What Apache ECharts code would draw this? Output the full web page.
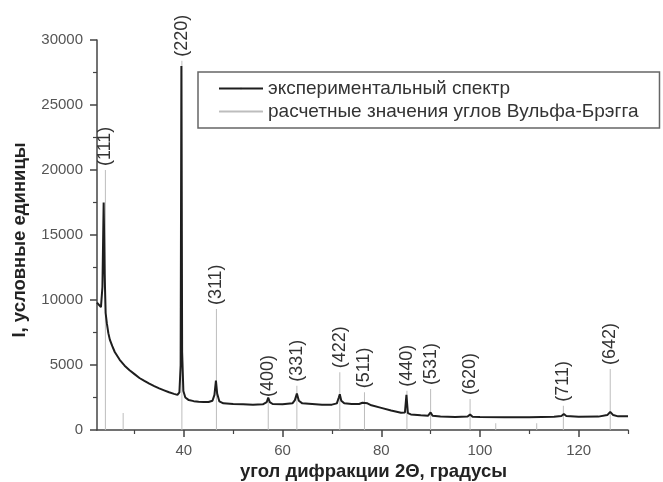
<!DOCTYPE html>
<html>
<head>
<meta charset="utf-8">
<script src="https://cdn.jsdelivr.net/npm/echarts@6/dist/echarts.min.js"></script>
<style>
html, body { margin: 0; padding: 0; background: #fff; }
#chart { width: 663px; height: 482px; }
</style>
</head>
<body>
<div id="chart"></div>
<script>
// экспериментальный спектр (2θ, I)
var specAngle = [22.4, 22.8, 23.2, 23.5, 23.75, 23.95, 24.15, 24.4, 24.7, 25.0, 25.5, 26.0, 27.0, 28.0, 29.0, 30.0,
    31.0, 32.0, 33.0, 34.0, 35.0, 36.0, 37.0, 38.0, 38.7, 39.1, 39.35, 39.5, 39.65, 39.9, 40.3, 41.0, 42.0, 43.0,
    44.0, 45.0, 45.8, 46.2, 46.5, 46.75, 47.2, 48.0, 50.0, 52.0, 54.0, 56.0, 56.8, 57.1, 57.4, 58.0, 60.0, 62.0,
    62.5, 62.9, 63.3, 64.0, 66.0, 68.0, 70.0, 71.0, 71.4, 71.6, 71.9, 72.5, 74.0, 75.5, 76.2, 76.6, 77.2, 78.0,
    80.0, 82.0, 84.0, 84.8, 85.1, 85.4, 86.0, 88.0, 89.5, 90.0, 90.4, 92.0, 95.0, 97.5, 98.0, 98.5, 100.0, 105.0,
    110.0, 115.0, 116.5, 117.0, 117.5, 120.0, 124.0, 125.8, 126.4, 127.0, 128.0, 130.0]
var specIntensity = [9800, 9700, 9450, 11000, 17500, 12000, 9000, 8200, 7450, 6950, 6450, 6000, 5400, 4950, 4600, 4300,
    4000, 3780, 3570, 3380, 3200, 3050, 2900, 2780, 2700, 2900, 5000, 28000, 6000, 3000, 2500, 2300, 2220, 2180,
    2150, 2150, 2250, 2700, 3800, 2800, 2200, 2050, 2000, 1980, 1950, 1980, 2150, 2500, 2150, 2000, 1980, 2050,
    2300, 2800, 2250, 2050, 2000, 1950, 1950, 2050, 2500, 2750, 2250, 2050, 2000, 2000, 2100, 2250, 2050, 1900,
    1700, 1500, 1330, 1350, 2700, 1300, 1200, 1130, 1100, 1350, 1100, 1030, 1000, 1030, 1200, 1020, 1000, 990,
    990, 1020, 1080, 1230, 1080, 1020, 1030, 1150, 1400, 1150, 1050, 1050]

// расчетные значения углов Вульфа-Брэгга
var braggAngle = [24.1, 27.7, 39.6, 46.6, 57.1, 62.9, 71.6, 76.6, 85.2, 90.0, 98.0, 103.2, 111.5, 116.9, 126.4]
var braggHeight = [20000, 1300, 28400, 9300, 2230, 3410, 4440, 2900, 3020, 3150, 2380, 520, 520, 1870, 4690]
var braggLabel = ['(111)', '', '(220)', '(311)', '(400)', '(331)', '(422)', '(511)', '(440)', '(531)', '(620)', '', '', '(711)', '(642)']

var xLabelValues = [40, 60, 80, 100, 120]
var xMinorValues = [30, 50, 70, 90, 110, 130]
var xMin = 22.4
var xMax = 130

var expName = 'экспериментальный спектр'
var braggName = 'расчетные значения углов Вульфа-Брэгга'

var font = 'Liberation Sans, Arial, sans-serif'

var specData = specAngle.map(function(a, i) { return [a, specIntensity[i]] })
var braggData = braggAngle.map(function(a, i) { return [a, braggHeight[i]] })

var chart = echarts.init(document.getElementById('chart'))
chart.setOption({
    animation: false,
    grid: [
        { left: 97, right: 35, top: 40, bottom: 52, outerBoundsMode: 'none' },
        { left: 97, right: 35, top: 40, bottom: 52, outerBoundsMode: 'none' }
    ],
    legend: {
        orient: 'vertical',
        left: 198,
        top: 72,
        padding: [7, 21, 7, 20],
        itemWidth: 44,
        itemHeight: 2,
        itemGap: 4,
        borderColor: '#666',
        borderWidth: 1.5,
        data: [expName, braggName],
        textStyle: { fontFamily: font, fontSize: 19, color: '#333' }
    },
    xAxis: [{
        type: 'value',
        gridIndex: 0,
        min: xMin,
        max: xMax,
        name: 'угол дифракции 2Θ, градусы',
        nameLocation: 'middle',
        nameGap: 27,
        nameTextStyle: { fontFamily: font, fontSize: 18.5, fontWeight: 'bold', color: '#222', padding: [0, 0, 0, 22] },
        splitLine: { show: false },
        axisLine: { lineStyle: { color: '#444', width: 1.5 } },
        axisTick: { customValues: xLabelValues, length: 7, lineStyle: { color: '#444', width: 1.5 } },
        axisLabel: { customValues: xLabelValues, margin: 13, fontFamily: font, fontSize: 15, color: '#555' }
    }, {
        type: 'value',
        gridIndex: 1,
        min: xMin,
        max: xMax,
        splitLine: { show: false },
        axisLine: { show: false },
        axisTick: { customValues: xMinorValues, length: 4, lineStyle: { color: '#444', width: 1.2 } },
        axisLabel: { show: false }
    }],
    yAxis: [{
        type: 'value',
        gridIndex: 0,
        min: 0,
        max: 30000,
        interval: 5000,
        name: 'I, условные единицы',
        nameLocation: 'middle',
        nameGap: 68,
        nameRotate: 90,
        nameTextStyle: { fontFamily: font, fontSize: 18.5, fontWeight: 'bold', color: '#222', padding: [0, 10, 0, 0] },
        splitLine: { show: false },
        axisLine: { show: true, lineStyle: { color: '#444', width: 1.5 } },
        axisTick: { show: true, length: 7, lineStyle: { color: '#444', width: 1.5 } },
        minorTick: { show: true, splitNumber: 2, length: 4, lineStyle: { color: '#444', width: 1.2 } },
        axisLabel: {
            margin: 14, fontFamily: font, fontSize: 15, color: '#555',
            formatter: function(v) { return String(v) }
        }
    }, {
        type: 'value',
        gridIndex: 1,
        min: 0,
        max: 30000,
        show: false
    }],
    series: [{
        name: braggName,
        type: 'bar',
        xAxisIndex: 0,
        yAxisIndex: 0,
        barWidth: 1,
        data: braggData,
        itemStyle: { color: '#bdbdbd' },
        label: {
            show: true,
            position: 'top',
            rotate: 90,
            align: 'left',
            verticalAlign: 'middle',
            distance: 4,
            fontFamily: font,
            fontSize: 18,
            color: '#333',
            formatter: function(p) { return braggLabel[p.dataIndex] }
        }
    }, {
        name: expName,
        type: 'line',
        xAxisIndex: 0,
        yAxisIndex: 0,
        symbol: 'none',
        data: specData,
        lineStyle: { color: '#1e1e1e', width: 2 },
        itemStyle: { color: '#1e1e1e' }
    }]
})
</script>
</body>
</html>
